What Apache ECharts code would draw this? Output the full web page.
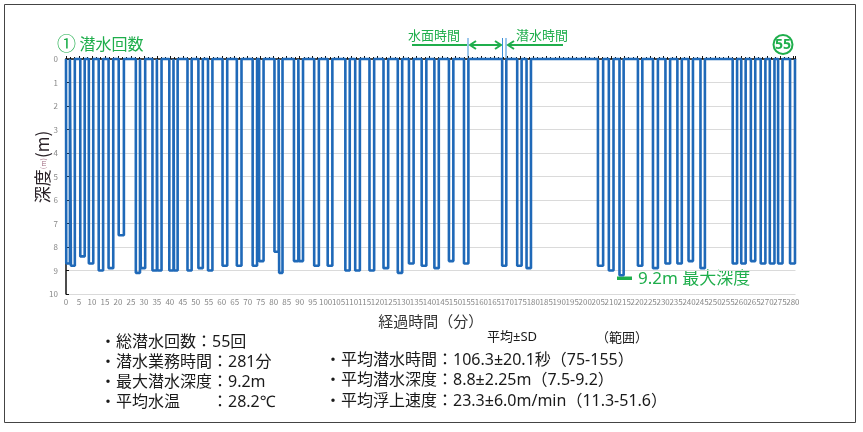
<!DOCTYPE html>
<html>
<head>
<meta charset="utf-8">
<script src="https://cdn.jsdelivr.net/npm/echarts/dist/echarts.min.js"></script>
<style>
    html, body { margin: 0; padding: 0; background: #fff; }
    #container { width: 863px; height: 432px; }
</style>
</head>
<body>
<div id="container"></div>
<script>
// dive start / end (minutes from start) and bottom depth (m)
var diveStart = [0.1, 1.9, 5.5, 8.8, 12.6, 16.4, 20.3, 26.9, 28.8, 33.3,
    35.2, 39.8, 41.6, 46.8, 51.0, 54.7, 60.3, 65.8, 71.9, 74.4,
    80.3, 82.1, 87.8, 89.8, 95.6, 100.8, 107.6, 111.4, 116.9, 122.3,
    127.8, 132.1, 137.0, 141.9, 147.5, 153.3, 168.0, 173.8, 177.4, 204.9,
    209.1, 213.2, 220.3, 226.1, 230.9, 235.5, 239.8, 244.4, 256.8, 260.1,
    263.8, 267.6, 271.1, 274.3, 278.9];
var diveEnd = [1.5, 3.4, 7.2, 10.5, 14.3, 18.2, 22.3, 28.5, 30.5, 35.0,
    36.8, 41.4, 43.0, 48.4, 52.7, 56.4, 62.1, 67.6, 73.6, 76.1,
    81.9, 83.4, 89.5, 91.3, 97.4, 102.6, 109.3, 113.2, 118.7, 124.1,
    129.5, 133.9, 138.8, 143.6, 149.2, 155.0, 169.6, 175.5, 179.1, 206.9,
    210.9, 214.8, 222.0, 228.0, 232.7, 237.2, 241.5, 246.1, 258.5, 261.8,
    265.5, 269.4, 272.9, 276.0, 280.8];
var diveDepth = [8.7, 8.8, 8.4, 8.7, 9.0, 8.9, 7.5, 9.1, 8.9, 9.0,
    9.0, 9.0, 9.0, 9.0, 8.9, 9.0, 8.8, 8.8, 8.8, 8.6,
    8.2, 9.1, 8.6, 8.6, 8.8, 8.8, 9.0, 9.0, 9.0, 8.9,
    9.1, 8.7, 8.8, 8.9, 8.6, 8.7, 8.8, 8.8, 8.9, 8.8,
    9.0, 9.2, 8.8, 8.9, 8.7, 8.7, 8.6, 8.9, 8.7, 8.7,
    8.6, 8.7, 8.7, 8.7, 8.7];

var summaryLeft = [
    '・総潜水回数：55回',
    '・潜水業務時間：281分',
    '・最大潜水深度：9.2m',
    '・平均水温　　：28.2℃'
];
var summaryRight = [
    '・平均潜水時間：106.3±20.1秒（75-155）',
    '・平均潜水深度：8.8±2.25m（7.5-9.2）',
    '・平均浮上速度：23.3±6.0m/min（11.3-51.6）'
];

var FONT = '"Noto Sans CJK JP", "Noto Sans", sans-serif';
var FONT_MIX = '"Noto Sans", "Noto Sans CJK JP", sans-serif';
var GREEN = '#1fae4c';
var BLUE = '#1f69b8';

var profile = [[0, 0]];
for (var i = 0; i < diveStart.length; i++) {
    profile.push([diveStart[i], 0]);
    profile.push([diveStart[i], diveDepth[i]]);
    profile.push([diveEnd[i], diveDepth[i]]);
    profile.push([diveEnd[i], 0]);
}

var graphics = [];
// outer frame
graphics.push({ type: 'rect', shape: { x: 4.5, y: 4.5, width: 851, height: 418 },
    style: { fill: 'none', stroke: '#444', lineWidth: 1 } });
// y axis title (with the small overlapped unit)
graphics.push({ type: 'text', x: 43, y: 167, rotation: Math.PI / 2,
    style: { text: '{a|深度}{b|(m)}{a|(m)}', align: 'center', verticalAlign: 'middle',
        rich: { a: { fontSize: 17, fill: '#2a2228', fontFamily: FONT },
                b: { fontSize: 7, fill: '#a06a80', fontFamily: FONT } } } });
// ① label and circled 55
graphics.push({ type: 'text', x: 57, y: 44,
    style: { text: '{c|①} 潜水回数', fontSize: 16, fill: GREEN, fontFamily: FONT, verticalAlign: 'middle',
        rich: { c: { fontSize: 19, fill: GREEN, fontFamily: FONT } } } });
graphics.push({ type: 'circle', shape: { cx: 783, cy: 44.5, r: 9.5 },
    style: { fill: 'none', stroke: GREEN, lineWidth: 2 } });
graphics.push({ type: 'text', x: 783, y: 45,
    style: { text: '55', fontSize: 14, fontWeight: 'bold', fill: GREEN, fontFamily: FONT_MIX,
        align: 'center', verticalAlign: 'middle' } });
// surface / dive time arrows
graphics.push({ type: 'text', x: 434, y: 35,
    style: { text: '水面時間', fontSize: 13, fill: GREEN, fontFamily: FONT, align: 'center', verticalAlign: 'middle' } });
graphics.push({ type: 'text', x: 542, y: 35,
    style: { text: '潜水時間', fontSize: 13, fill: GREEN, fontFamily: FONT, align: 'center', verticalAlign: 'middle' } });
graphics.push({ type: 'line', shape: { x1: 412, y1: 45, x2: 467, y2: 45 }, style: { stroke: GREEN, lineWidth: 2 } });
graphics.push({ type: 'line', shape: { x1: 470, y1: 45, x2: 501, y2: 45 }, style: { stroke: GREEN, lineWidth: 2 } });
graphics.push({ type: 'polyline', shape: { points: [[476, 41], [470, 45], [476, 49]] }, style: { fill: 'none', stroke: GREEN, lineWidth: 2 } });
graphics.push({ type: 'polyline', shape: { points: [[495, 41], [501, 45], [495, 49]] }, style: { fill: 'none', stroke: GREEN, lineWidth: 2 } });
graphics.push({ type: 'line', shape: { x1: 508, y1: 45, x2: 563, y2: 45 }, style: { stroke: GREEN, lineWidth: 2 } });
graphics.push({ type: 'polyline', shape: { points: [[514, 41], [508, 45], [514, 49]] }, style: { fill: 'none', stroke: GREEN, lineWidth: 2 } });
[468, 502.5, 506].forEach(function (x) {
    graphics.push({ type: 'line', shape: { x1: x, y1: 38, x2: x, y2: 58 }, style: { stroke: '#3a8fd8', lineWidth: 1 } });
});
// max depth note
graphics.push({ type: 'rect', shape: { x: 617, y: 276.5, width: 15, height: 3.5 }, style: { fill: GREEN } });
graphics.push({ type: 'text', x: 638, y: 279,
    style: { text: '9.2m 最大深度', fontSize: 17, fill: GREEN, fontFamily: FONT_MIX, verticalAlign: 'middle' } });
// summary block
summaryLeft.forEach(function (t, k) {
    graphics.push({ type: 'text', x: 100, y: 342 + k * 20,
        style: { text: t, fontSize: 16, fill: '#1a1a1a', fontFamily: FONT_MIX, verticalAlign: 'middle' } });
});
graphics.push({ type: 'text', x: 487, y: 337,
    style: { text: '平均±SD', fontSize: 13, fill: '#1a1a1a', fontFamily: FONT_MIX, verticalAlign: 'middle' } });
graphics.push({ type: 'text', x: 622, y: 337,
    style: { text: '（範囲）', fontSize: 13, fill: '#1a1a1a', fontFamily: FONT, align: 'center', verticalAlign: 'middle' } });
summaryRight.forEach(function (t, k) {
    graphics.push({ type: 'text', x: 325, y: 360 + k * 20.5,
        style: { text: t, fontSize: 16, fill: '#1a1a1a', fontFamily: FONT_MIX, verticalAlign: 'middle' } });
});

var dom = document.getElementById('container');
var myChart = echarts.init(dom);
var option = {
    animation: false,
    textStyle: { fontFamily: FONT },
    grid: { left: 66, right: 67.5, top: 59, bottom: 138 },
    xAxis: {
        type: 'value',
        min: 0,
        max: 281,
        interval: 5,
        name: '経過時間（分）',
        nameLocation: 'middle',
        nameGap: 20,
        nameTextStyle: { fontSize: 15, color: '#333' },
        axisLine: { lineStyle: { color: '#111', width: 1.5 } },
        axisTick: { inside: true, length: 3, lineStyle: { color: '#111' } },
        minorTick: { show: true, splitNumber: 3, length: 2, lineStyle: { color: '#111' } },
        axisLabel: { fontSize: 8, color: '#888', margin: 4, showMaxLabel: false, hideOverlap: false },
        splitLine: { show: false }
    },
    yAxis: {
        type: 'value',
        inverse: true,
        min: 0,
        max: 10,
        interval: 1,
        axisLine: { show: true, lineStyle: { color: '#111', width: 1.5 } },
        axisTick: { show: true, inside: true, length: 3, lineStyle: { color: '#111' } },
        axisLabel: { fontSize: 8, color: '#888', margin: 8 },
        splitLine: { lineStyle: { color: '#dadada', width: 1 } }
    },
    series: [{
        type: 'line',
        data: profile,
        showSymbol: false,
        clip: false,
        lineStyle: { color: BLUE, width: 2.6 },
        z: 3
    }],
    graphic: graphics
};
myChart.setOption(option);
</script>
</body>
</html>
